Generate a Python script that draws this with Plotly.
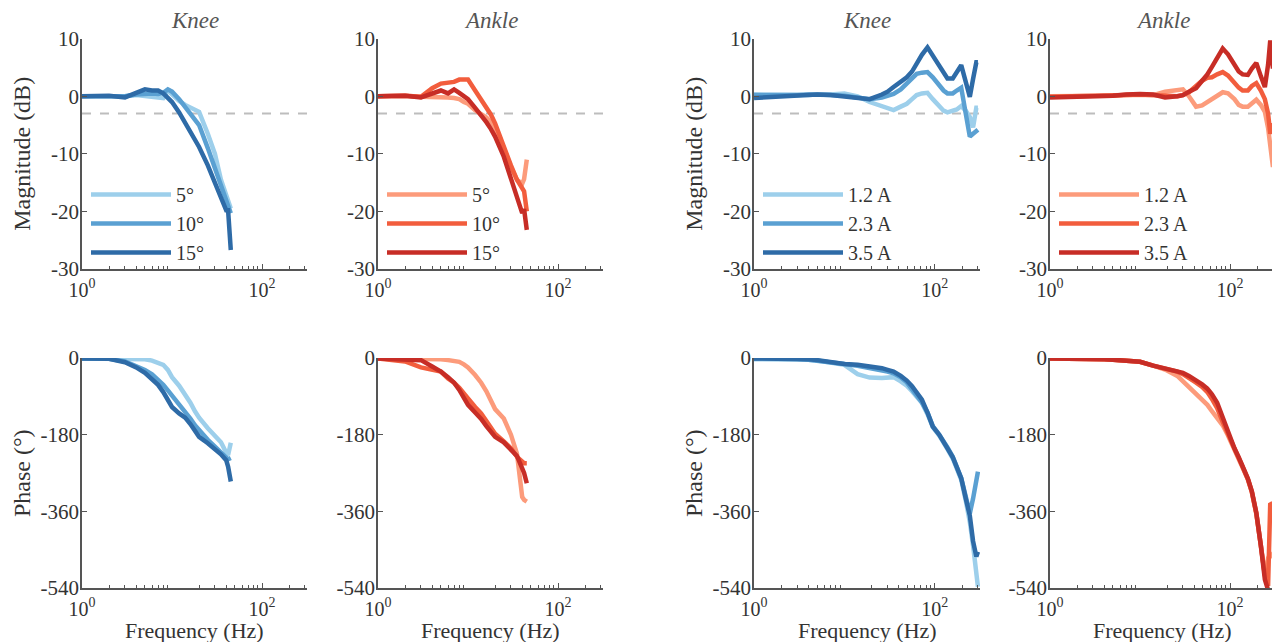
import plotly.graph_objects as go

# ---------------- data ----------------
# Left group (joint angle amplitudes)
freq_angle = [1, 2, 3, 4, 5, 6, 7, 8, 9, 10, 12, 14, 16, 18, 20, 25, 30, 35, 40, 42, 45]
angle_labels = ["5°", "10°", "15°"]

knee_mag_5 = [0, 0, 0, 0.2, 0.1, 0.0, -0.2, -0.3, 1.0, 0.3, -0.8, -1.5, -2.0, -2.4, -2.7, -6.5, -10.0, -14.5, -17.5, -18.5, -19.5]
knee_mag_10 = [0, 0.1, 0, 0.3, 0.5, 0.5, 0.4, 0.6, 1.2, 0.8, -0.5, -1.8, -3.0, -4.2, -5.0, -9.0, -12.5, -15.5, -17.8, -19.0, -20.3]
knee_mag_15 = [0, 0.1, -0.2, 0.6, 1.2, 1.0, 1.0, 0.5, -0.2, -1.0, -2.8, -4.5, -6.0, -7.5, -8.8, -12.0, -15.0, -18.0, -19.8, -19.8, -26.7]

ankle_mag_5 = [0, 0.1, -0.1, -0.1, -0.1, -0.2, -0.3, -0.5, -1.0, -1.3, -2.4, -3.1, -3.7, -4.5, -5.4, -9.0, -12.3, -14.5, -15.2, -14.4, -11.0]
ankle_mag_10 = [0, 0.1, -0.1, 1.4, 2.2, 2.4, 2.5, 2.9, 3.0, 2.9, 1.0, -0.5, -1.8, -3.2, -4.7, -9.0, -12.0, -14.5, -16.0, -16.5, -20.0]
ankle_mag_15 = [0, 0.1, -0.2, 0.5, 1.0, 0.5, 1.2, 0.6, 0.0, -0.5, -2.0, -3.2, -4.5, -5.7, -7.0, -10.5, -14.5, -18.0, -20.3, -19.6, -23.2]

knee_ph_5 = [-1, -1, -1, -2, -3, -6, -10, -16, -28, -45, -65, -85, -105, -125, -140, -165, -185, -198, -222, -228, -199]
knee_ph_10 = [-1, -2, -8, -18, -28, -38, -50, -63, -76, -88, -108, -125, -142, -158, -170, -192, -208, -222, -233, -238, -235]
knee_ph_15 = [-1, -2, -10, -22, -35, -50, -63, -80, -100, -115, -130, -140, -155, -170, -185, -200, -213, -226, -240, -255, -290]

ankle_ph_5 = [-1, -1, -1, -2, -3, -5, -7, -9, -15, -22, -40, -58, -78, -100, -120, -142, -180, -225, -326, -333, -337]
ankle_ph_10 = [-1, -8, -22, -28, -32, -48, -58, -70, -85, -95, -115, -130, -148, -165, -178, -196, -212, -232, -245, -247, -247]
ankle_ph_15 = [-1, -3, -5, -20, -32, -45, -58, -75, -95, -110, -128, -143, -160, -175, -185, -198, -215, -230, -259, -270, -294]

# Right group (motor currents)
freq_knee_cur = [1, 2, 3, 4, 5, 7, 10, 14, 19, 26, 30, 35, 42, 49, 56, 63, 72, 83, 95, 112, 125, 138, 158, 175, 196, 220, 244, 265, 288, 300]
freq_ankle_cur = [1, 2, 3, 4, 5, 7, 10, 14, 19, 26, 30, 35, 42, 49, 56, 63, 72, 83, 95, 112, 125, 138, 158, 175, 196, 220, 244, 265, 280, 300]
current_labels = ["1.2 A", "2.3 A", "3.5 A"]

kneec_mag_12 = [0.3, 0.2, 0.1, 0.2, 0.3, 0.3, 0.5, 0.0, -1.0, -1.8, -2.2, -2.4, -1.8, -1.3, -0.5, 0.2, 0.5, 0.6, -0.5, -1.8, -2.5, -2.8, -2.5, -2.3, -1.7, -2.5, -3.6, -5.4, -2.0, -2.0]
kneec_mag_23 = [0.2, 0.1, 0.2, 0.3, 0.3, 0.2, 0.1, -0.2, -0.5, -0.2, 0.1, 0.4, 1.2, 2.3, 3.2, 3.9, 4.1, 4.2, 3.3, 1.9, 1.0, 0.5, 0.5, 1.0, 1.5, -3.0, -7.0, -6.5, -6.0, -5.8]
kneec_mag_35 = [-0.3, 0.0, 0.2, 0.3, 0.3, 0.2, 0.0, -0.2, -0.5, 0.3, 0.8, 1.6, 2.5, 3.3, 4.3, 5.7, 7.2, 8.5, 7.0, 5.4, 4.0, 3.1, 3.1, 4.3, 5.4, 2.5, -0.1, 3.0, 5.9, 5.9]

anklec_mag_12 = [0.0, 0.0, 0.0, 0.0, 0.1, 0.2, 0.3, 0.2, 0.8, 1.0, 1.2, 0.0, -1.8, -1.6, -1.0, -0.5, 0.2, 0.7, 0.5, -0.5, -1.5, -1.8, -1.8, -1.2, -0.6, -1.5, -2.7, -5.5, -8.8, -12.3]
anklec_mag_23 = [-0.1, 0.0, -0.1, 0.0, 0.1, 0.2, 0.3, 0.2, 0.0, 0.0, 0.2, 0.7, 1.8, 2.7, 3.2, 3.3, 3.8, 4.2, 3.6, 2.3, 1.5, 1.0, 1.0, 1.8, 2.3, 1.0, -0.5, -3.0, -6.5, -4.7]
anklec_mag_35 = [-0.2, -0.1, -0.1, 0.0, 0.1, 0.3, 0.4, 0.3, -0.2, 0.0, 0.2, 0.8, 1.4, 2.7, 3.8, 5.1, 6.8, 8.3, 7.3, 5.5, 4.3, 3.8, 3.7, 4.8, 5.8, 3.5, 1.6, 5.5, 9.7, 4.8]

kneec_ph_12 = [-3, -3, -3, -4, -6, -10, -16, -38, -46, -47, -46, -45, -55, -65, -78, -90, -105, -132, -162, -182, -197, -214, -236, -258, -286, -335, -385, -440, -500, -537]
kneec_ph_23 = [-1, -1, -2, -4, -6, -10, -14, -18, -23, -28, -32, -36, -45, -57, -72, -87, -104, -128, -160, -180, -194, -210, -232, -255, -282, -325, -365, -330, -285, -267]
kneec_ph_35 = [-1, -1, -2, -3, -5, -10, -14, -16, -19, -24, -28, -32, -42, -53, -66, -80, -98, -128, -161, -180, -195, -212, -233, -255, -282, -330, -370, -430, -466, -455]

anklec_ph_12 = [-1, -1, -2, -3, -4, -7, -9, -18, -27, -42, -55, -70, -85, -97, -110, -125, -140, -158, -182, -215, -235, -255, -285, -315, -365, -440, -510, -470, -460, -468]
anklec_ph_23 = [-1, -1, -2, -3, -4, -6, -9, -18, -25, -32, -38, -46, -58, -68, -80, -96, -118, -150, -180, -215, -235, -255, -285, -315, -365, -440, -510, -535, -341, -345]
anklec_ph_35 = [-1, -1, -2, -3, -4, -6, -9, -18, -25, -30, -35, -42, -52, -62, -72, -85, -105, -140, -172, -212, -233, -253, -283, -313, -363, -440, -520, -545]

# ticks / labels
x_tickvals = [1, 100]
x_ticktext = ["10<sup>0</sup>", "10<sup>2</sup>"]
x_minor = [2, 3, 4, 5, 6, 7, 8, 9, 20, 30, 40, 50, 60, 70, 80, 90, 200, 300]
mag_tickvals = [10, 0, -10, -20, -30]
mag_ticktext = ["10", "0", "-10", "-20", "-30"]
ph_tickvals = [0, -180, -360, -540]
ph_ticktext = ["0", "-180", "-360", "-540"]
panel_titles = ["Knee", "Ankle", "Knee", "Ankle"]
cutoff_db = -3

blues = ["#9dcfeb", "#5aa0d2", "#2e6ba7"]
reds = ["#fc9b7b", "#f25d3d", "#c72d26"]

FONT = "Liberation Serif"
TXT = "#333333"
AX = "#555555"

W, H = 1280, 642
OFF = 8  # page body margin


def px(p):
    return (p - OFF) / W


def py(p):
    return 1 - (p - OFF) / H


fig = go.Figure()

x_domains = [[px(82), px(307)], [px(378), px(603)], [px(754), px(980)], [px(1050), px(1275)]]
top_dom = [py(269), py(38.7)]
bot_dom = [py(588), py(358)]

panels = [
    (0, 0, freq_angle, [knee_mag_5, knee_mag_10, knee_mag_15], angle_labels, blues),
    (1, 0, freq_angle, [ankle_mag_5, ankle_mag_10, ankle_mag_15], angle_labels, reds),
    (2, 0, freq_knee_cur, [kneec_mag_12, kneec_mag_23, kneec_mag_35], current_labels, blues),
    (3, 0, freq_ankle_cur, [anklec_mag_12, anklec_mag_23, anklec_mag_35], current_labels, reds),
    (0, 1, freq_angle, [knee_ph_5, knee_ph_10, knee_ph_15], angle_labels, blues),
    (1, 1, freq_angle, [ankle_ph_5, ankle_ph_10, ankle_ph_15], angle_labels, reds),
    (2, 1, freq_knee_cur, [kneec_ph_12, kneec_ph_23, kneec_ph_35], current_labels, blues),
    (3, 1, freq_ankle_cur, [anklec_ph_12, anklec_ph_23, anklec_ph_35], current_labels, reds),
]

layout = {}
legend_x = [px(86), px(382), px(758), px(1054)]
for i, (col, row, fr, series, labels, colors) in enumerate(panels):
    n = i + 1
    xa = "x" if n == 1 else f"x{n}"
    ya = "y" if n == 1 else f"y{n}"
    legname = "legend" if col == 0 else f"legend{col+1}"
    for s, lab, c in zip(series, labels, colors):
        fig.add_trace(go.Scatter(
            x=fr[:len(s)], y=s, mode="lines", name=lab,
            line=dict(color=c, width=4.5),
            xaxis=xa, yaxis=ya,
            showlegend=(row == 0), legend=legname,
        ))
    xc = sum(x_domains[col]) / 2
    if row == 0:
        fig.add_shape(type="line", xref=f"{xa} domain", x0=0, x1=1,
                      yref=ya, y0=cutoff_db, y1=cutoff_db,
                      line=dict(color="#bdbdbd", width=2, dash="dash"), layer="below")
        fig.add_annotation(text=f"<i>{panel_titles[col]}</i>", xref="paper", yref="paper",
                           x=xc, y=py(20), xanchor="center", yanchor="middle", showarrow=False,
                           font=dict(family=FONT, size=23, color="#555555"))
    else:
        fig.add_annotation(text="Frequency (Hz)", xref="paper", yref="paper",
                           x=xc, y=py(630), xanchor="center", yanchor="middle", showarrow=False,
                           font=dict(family=FONT, size=22, color=TXT))
    if col in (0, 2):
        ytitle = "Magnitude (dB)" if row == 0 else "Phase (°)"
        ymid = (38.7 + 269) / 2 if row == 0 else (358 + 588) / 2
        fig.add_annotation(text=ytitle, xref="paper", yref="paper",
                           x=px(x_domains[col][0] * W + OFF - 60), y=py(ymid),
                           xanchor="center", yanchor="middle", textangle=-90, showarrow=False,
                           font=dict(family=FONT, size=24, color=TXT))
    xkey = "xaxis" if n == 1 else f"xaxis{n}"
    ykey = "yaxis" if n == 1 else f"yaxis{n}"
    layout[xkey] = dict(
        domain=x_domains[col], anchor=ya, type="log", range=[0, 2.5],
        automargin=False,
        tickmode="array", tickvals=x_tickvals, ticktext=x_ticktext,
        ticks="inside", ticklen=5, tickwidth=1, tickcolor=AX,
        showline=True, linecolor=AX, linewidth=1.5, showgrid=False, zeroline=False,
        minor=dict(tickmode="array", tickvals=x_minor, ticks="inside", ticklen=3, tickcolor=AX, showgrid=False),
        tickfont=dict(family=FONT, size=20, color=TXT),
        ticklabelstandoff=2,
    )
    if row == 0:
        ydom, yv, yt, yr = top_dom, mag_tickvals, mag_ticktext, [-30, 10]
    else:
        ydom, yv, yt, yr = bot_dom, ph_tickvals, ph_ticktext, [-540, 0]
    layout[ykey] = dict(
        domain=ydom, anchor=xa, range=yr,
        automargin=False,
        tickmode="array", tickvals=yv, ticktext=yt,
        ticks="inside", ticklen=5, tickwidth=1, tickcolor=AX,
        showline=True, linecolor=AX, linewidth=1.5, showgrid=False, zeroline=False,
        tickfont=dict(family=FONT, size=21, color=TXT),
        ticklabelstandoff=-3,
    )

for col in range(4):
    key = "legend" if col == 0 else f"legend{col+1}"
    layout[key] = dict(
        x=legend_x[col], y=py(175), xanchor="left", yanchor="top",
        bgcolor="rgba(0,0,0,0)", font=dict(family=FONT, size=20, color=TXT),
        itemwidth=80, tracegroupgap=0,
    )

fig.update_layout(
    template="none",
    width=W, height=H,
    margin=dict(l=0, r=0, t=0, b=0),
    paper_bgcolor="white", plot_bgcolor="white",
    font=dict(family=FONT, color=TXT),
    **layout,
)

fig.write_html("out.html")
